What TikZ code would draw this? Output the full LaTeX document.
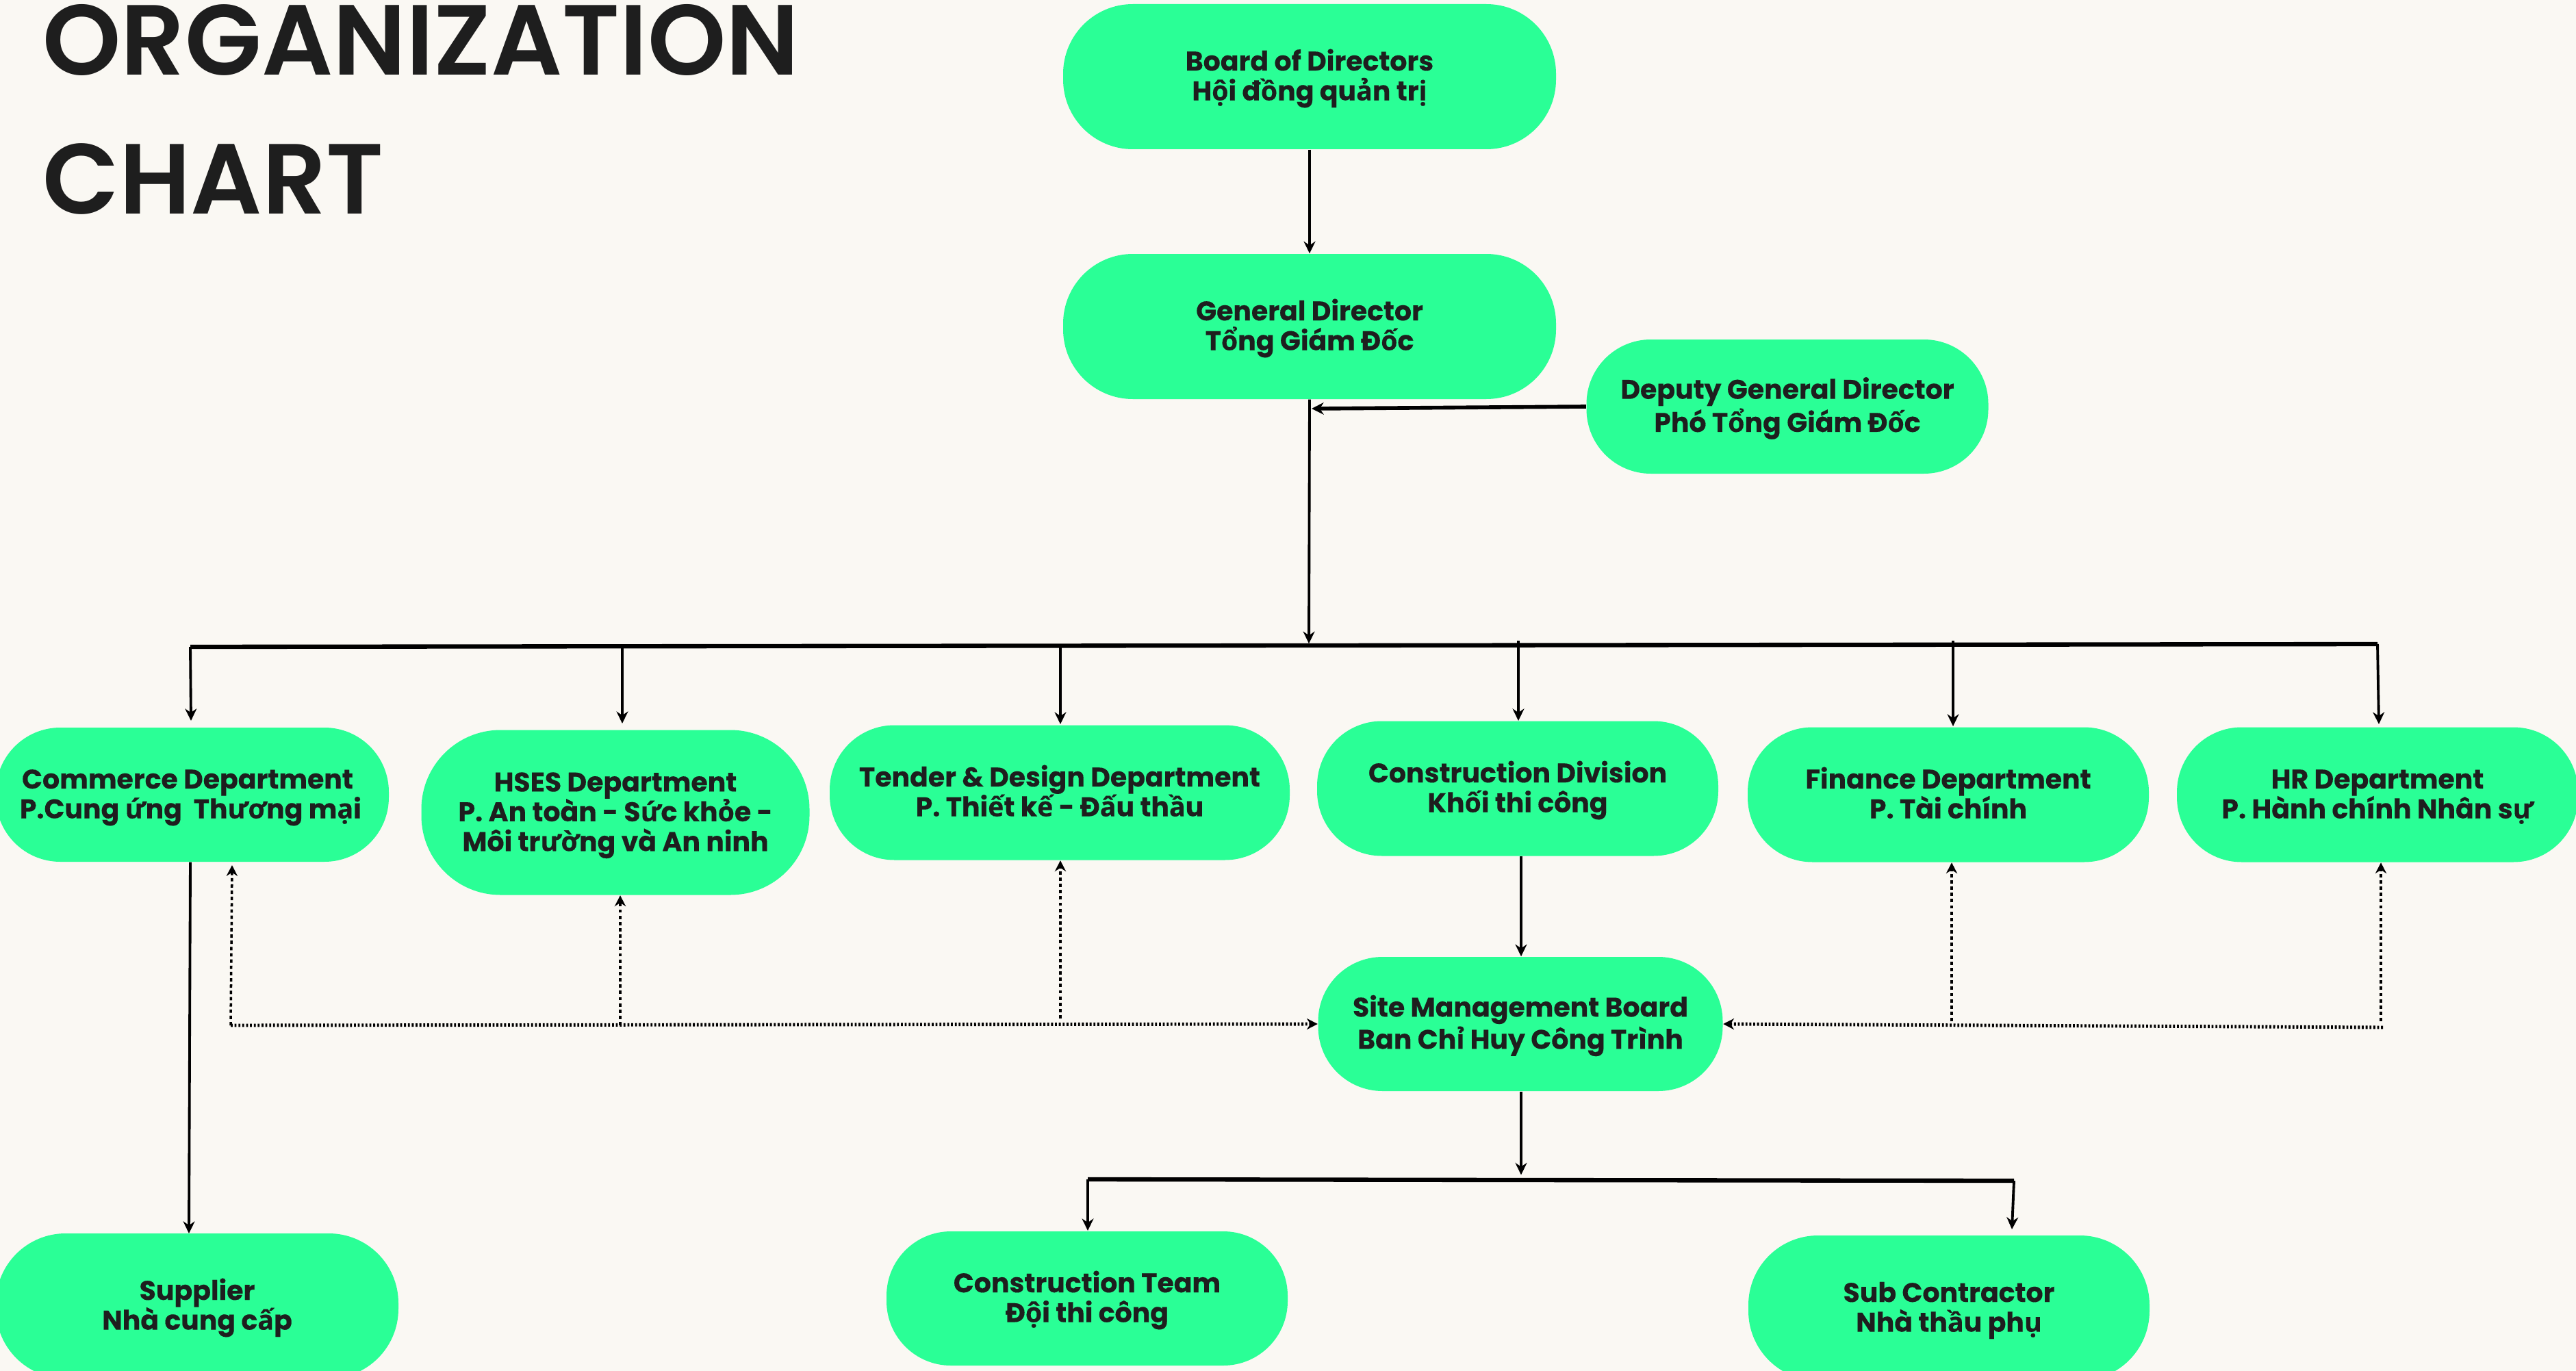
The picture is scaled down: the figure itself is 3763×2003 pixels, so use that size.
\documentclass[tikz,border=0pt]{standalone}
\usepackage{fontspec}
\usetikzlibrary{arrows.meta}
\newfontfamily\popfont[BoldFont=Poppins Bold,BoldFeatures={FakeBold=0.25}]{Poppins}
\newfontfamily\vnfont[BoldFeatures={FakeBold=0.25}]{Open Sans}
\newfontfamily\titlefont{Poppins SemiBold}
\XeTeXinterchartokenstate=1
\newXeTeXintercharclass\vnclass
\def\vnc#1{\XeTeXcharclass`#1=\vnclass}
\vnc ả \vnc ạ \vnc ấ \vnc ầ \vnc ế \vnc ệ \vnc ể \vnc ị \vnc ỉ \vnc ộ \vnc ồ \vnc ố \vnc ổ \vnc ỏ \vnc ơ \vnc ư \vnc ứ \vnc ờ \vnc ự \vnc ụ \vnc ớ
\XeTeXinterchartoks 0 \vnclass={\vnbold}
\XeTeXinterchartoks 4095 \vnclass={\vnbold}
\XeTeXinterchartoks \vnclass 0={\popbold}
\XeTeXinterchartoks \vnclass 4095={\popbold}
\def\popbold{\popfont\bfseries\fontsize{11.2pt}{12.35pt}\selectfont}
\def\vnbold{\vnfont\bfseries\fontsize{11.2pt}{12.35pt}\selectfont}
\def\tl{\rule{0pt}{11pt}}
\definecolor{bg}{HTML}{FAF8F3}
\definecolor{pillc}{HTML}{2AFF96}
\definecolor{ink}{HTML}{1E1E1E}
\tikzset{
  pill/.style 2 args={draw=none,fill=pillc,rectangle,inner sep=0pt,align=center,text=ink,
    minimum width=#1*0.01cm,minimum height=#2*0.01cm,rounded corners=0.48*#2*0.01cm,
    font=\popbold,execute at end node=\strut},
  arr/.style={line width=1.1pt,-{Stealth[length=5pt,width=4.8pt]}},
  thickarr/.style={line width=1.6pt,-{Stealth[length=5pt,width=5pt]}},
  trunk/.style={line width=1.8pt},
  dotarr/.style={line width=1pt,dash pattern=on 1.4pt off 1.2pt,-{Stealth[length=4.5pt,width=4.6pt]}},
  dotline/.style={line width=1.4pt,dash pattern=on 0.8pt off 0.8pt,-{Stealth[length=4.5pt,width=4.6pt]}},
  titletext/.style={anchor=base west,inner sep=0pt,font=\titlefont\fontsize{41.4pt}{50pt}\selectfont,text=ink}
}
\begin{document}
\begin{tikzpicture}[x=0.01cm,y=-0.01cm]
\useasboundingbox (0,0) rectangle (3763,2003);
\fill[bg] (0,0) rectangle (3763,2003);
\node[titletext] (t1) at (62,110) {ORGANIZATION};
\node[titletext] (t2) at (62,312) {CHART};

\node[pill={720}{212}] (board) at (1913,112) {\tl Board of Directors\\Hội đồng quản trị};
\node[pill={720}{212}] (gd) at (1913,477) {\tl General Director\\Tổng Giám Đốc};
\node[pill={587}{196}] (deputy) at (2611,594) {\tl Deputy General Director\\Phó Tổng Giám Đốc};
\node[pill={574}{196}] (commerce) at (281,1161) {\tl Commerce Department\hspace*{4pt}\\P.Cung ứng\ \ Thương mại\hspace*{1.5pt}};
\node[pill={567}{241}] (hses) at (899,1187) {\tl HSES Department\\P. An toàn - Sức khỏe -\\Môi trường và An ninh};
\node[pill={672}{197}] (tender) at (1548,1158) {\tl Tender \& Design Department\\P. Thiết kế - Đấu thầu};
\node[pill={586}{197}] (constr) at (2217,1152) {\tl Construction Division\\Khối thi công};
\node[pill={586}{197}] (finance) at (2846,1161) {\tl Finance Department\\P. Tài chính};
\node[pill={586}{197}] (hr) at (3473,1161) {\tl HR Department\\P. Hành chính Nhân sự};
\node[pill={591}{196}] (site) at (2221,1496) {\tl Site Management Board\\Ban Chỉ Huy Công Trình};
\node[pill={588}{212}] (supplier) at (288,1908) {\tl Supplier\\Nhà cung cấp};
\node[pill={586}{196}] (team) at (1588,1897) {\tl Construction Team\\Đội thi công};
\node[pill={586}{212}] (sub) at (2847,1911) {\tl Sub Contractor\\Nhà thầu phụ};

% named junctions
\coordinate (barL) at (278,945);
\coordinate (barM) at (1912,943);
\coordinate (barR) at (3473,941);
\coordinate (b2L) at (1589,1723);
\coordinate (b2M) at (2222,1724);
\coordinate (b2R) at (2942,1725);
\coordinate (dL) at (337,1498);
\coordinate (dR) at (3481,1501);
\coordinate (dH) at (906,1498);
\coordinate (dT) at (1549,1488);
\coordinate (dF) at (2851,1492);
\coordinate (dHR) at (3478,1492);

% solid connectors
\draw[arr] (board.south) -- (gd.north);
\draw[thickarr] (deputy.west |- 0,594) -- (1916,597);
\draw[arr,shorten >=0.8pt] (gd.south) -- (barM);
\draw[trunk] (barL) -- (barM) -- (barR);
\draw[arr] (barL) -- (279,1053);
\draw[arr] (909,944) -- (909,1057);
\draw[arr] (1549,943) -- (1549,1058);
\draw[arr] (2218,936) -- (2218,1053);
\draw[arr] (2853,936) -- (2853,1061);
\draw[arr] (barR) -- (3475,1058);
\draw[arr] (constr.south -| 2222,0) -- (site.north -| 2222,0);
\draw[arr,shorten >=1pt] (site.south -| 2222,0) -- (2222,1720);
\draw[trunk] (b2L) -- (b2M) -- (b2R);
\draw[arr] (b2L) -- (1589,1798);
\draw[arr] (b2R) -- (2939,1796);
\draw[arr] (commerce.south -| 278,0) -- (276,1802);

% dotted connectors
\draw[dotline] (dL) -- (site.west);
\draw[dotline] (dR) -- (site.east);
\draw[dotarr] (dL) -- (339,1264);
\draw[dotarr] (dH) -- (hses.south -| 906,0);
\draw[dotarr] (dT) -- (tender.south -| 1549,0);
\draw[dotarr] (dF) -- (finance.south -| 2851,0);
\draw[dotarr] (dHR) -- (hr.south -| 3478,0);
\end{tikzpicture}
\end{document}
